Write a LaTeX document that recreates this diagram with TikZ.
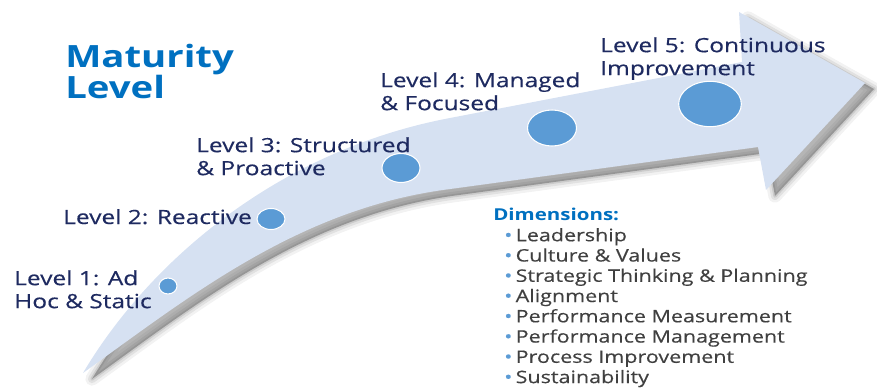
\documentclass[tikz,border=0pt]{standalone}
\usepackage{fontspec}
\setmainfont{Open Sans}[FakeStretch=1.25, UprightFeatures={FakeBold=0.4}]
\usetikzlibrary{matrix,positioning,shapes.geometric}
\definecolor{arrowfill}{RGB}{214,225,242}
\definecolor{dotblue}{RGB}{91,155,213}
\definecolor{navy}{RGB}{30,42,96}
\definecolor{headblue}{RGB}{0,112,192}
\definecolor{itemgray}{RGB}{64,64,64}
\definecolor{shadowgray}{RGB}{70,70,70}
\newcommand{\arrowoutline}{(83,373) .. controls (190,296) and (300,208) .. (450,189)
  -- (758,147) -- (766,190) -- (865,83) -- (739,12) -- (742,62) -- (450,118)
  .. controls (280,150) and (150,260) .. (83,373) -- cycle}
\tikzset{x=0.75pt, y=-0.75pt,
         level/.style={text=navy, font=\fontsize{14.7}{17.25}\selectfont,
                       align=left, inner sep=0pt, anchor=north west},
         dot/.style={ellipse, fill=dotblue, draw=white, line width=0.8pt, inner sep=0pt},
         shade/.style={shadowgray, shift={(9,6)}, line join=round}}

\begin{document}
\begin{tikzpicture}
	  \useasboundingbox (0,0) rectangle (877,388);
	  % shadow
	  \fill[shade, opacity=0.40] \arrowoutline;
	  \draw[shade, opacity=0.07, line width=10pt] \arrowoutline;
	  \draw[shade, opacity=0.10, line width=6pt] \arrowoutline;
	  \draw[shade, opacity=0.14, line width=2.5pt] \arrowoutline;
	  % arrow
	  \fill[arrowfill] \arrowoutline;
	  % steps
	  \node[dot, minimum width=13.5pt, minimum height=12pt] (c1) at (168,286) {};
	  \node[dot, minimum width=21pt, minimum height=15.75pt] (c2) at (271,219) {};
	  \node[dot, minimum width=28.5pt, minimum height=21.75pt] (c3) at (401,168) {};
	  \node[dot, minimum width=36.75pt, minimum height=27pt] (c4) at (552,128) {};
	  \node[dot, minimum width=47pt, minimum height=34pt] (c5) at (710,104) {};
	  % labels
	  \node[text=headblue, font=\bfseries\fontsize{23}{23.25}\selectfont, align=left,
	        inner sep=0pt, anchor=north west] (title) at (65,44) {Maturity\\Level};
	  \node[level] (lvl1) at (14,270) {Level 1: Ad\\Hoc \& Static};
	  \node[level, anchor=base west] (lvl2) at (63,224) {Level 2: Reactive};
	  \node[level] (lvl3) at (196,137) {Level 3: Structured\\\& Proactive};
	  \node[level] (lvl4) at (380,72) {Level 4: Managed\\\& Focused};
	  \node[level] (lvl5) at (600,37) {Level 5: Continuous\\Improvement};
	  \node[text=headblue, font=\bfseries\fontsize{12.3}{14}\selectfont, inner sep=0pt,
	        anchor=base west] (dimhead) at (493,220) {Dimensions:};
	  \matrix (dims) [matrix of nodes, anchor=north west, inner sep=0pt,
	    row sep=2.9pt, column sep=2.5pt,
	    nodes={inner sep=0pt, anchor=base west, text height=9.5pt, text depth=2.8pt,
	           font=\fontsize{12.9}{15}\selectfont, text=itemgray},
	    column 1/.style={nodes={text=dotblue}}] at (504,228.3)
	    { \textbullet & Leadership \\
	      \textbullet & Culture \& Values \\
	      \textbullet & Strategic Thinking \& Planning \\
	      \textbullet & Alignment \\
	      \textbullet & Performance Measurement \\
	      \textbullet & Performance Management \\
	      \textbullet & Process Improvement \\
	      \textbullet & Sustainability \\ };
	\end{tikzpicture}
\end{document}
